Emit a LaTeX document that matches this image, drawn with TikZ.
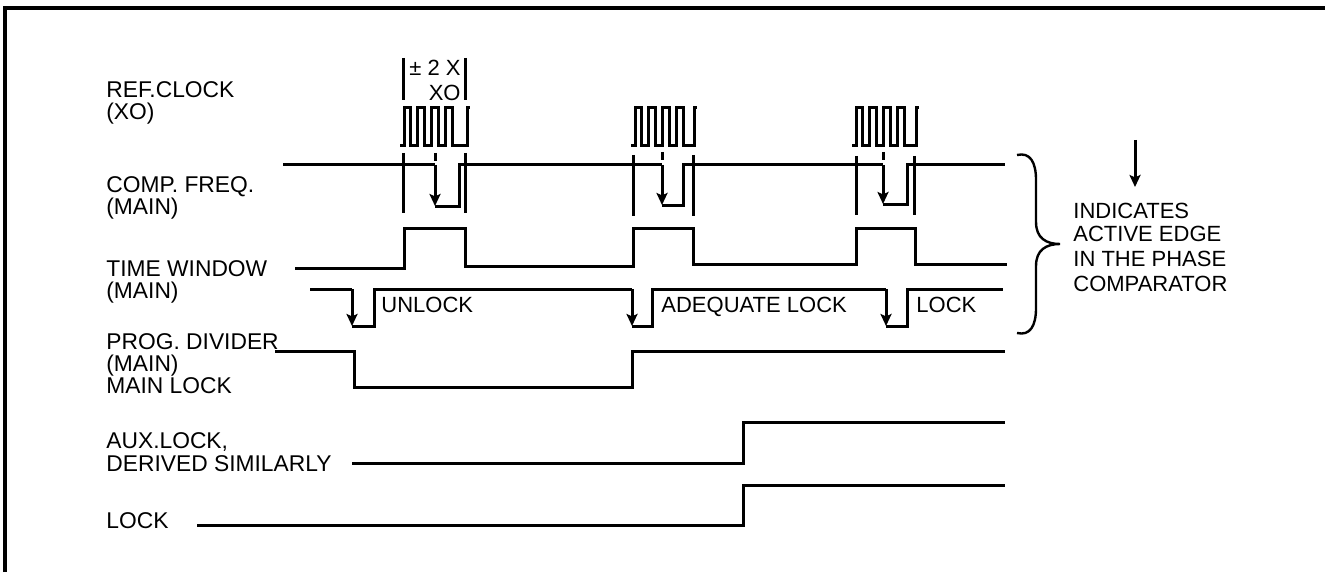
\documentclass[tikz,border=0pt]{standalone}
\usepackage{fontspec}
\setmainfont{Liberation Sans}
\usetikzlibrary{arrows.meta}
\newcommand\burstat[2]{%
  \draw[trace] (#1,146) -- ++(4,0)
    \foreach \i in {1,...,4}{ -- ++(0,-38) -- ++(6.9,0) -- ++(0,38) -- ++(6.9,0)}
    -- ++(#2,0) -- ++(0,-38) -- ++(3,0);}
\begin{document}
\begin{tikzpicture}[x=0.5pt,y=-0.5pt,
  trace/.style={line width=1.5pt, line join=miter},
  lbl/.style={anchor=base west, inner sep=0pt, font=\fontsize{11}{12}\selectfont},
  side/.style={lbl, font=\fontsize{11.4}{12}\selectfont},
  edgearrow/.style={line width=1.5pt, -{Stealth[length=6pt,width=5.5pt,inset=1.2pt]}}]
\useasboundingbox (0,0) rectangle (1325,572);
\draw[line width=1.8pt] (5,572) -- (5,8) -- (1325,8);

% left labels (baselines)
\node[side] (l1a) at (106,98) {REF.CLOCK};
\node[side] (l1b) at (106,120) {(XO)};
\node[side] (l2a) at (106,192) {COMP. FREQ.};
\node[side] (l2b) at (106,214) {(MAIN)};
\node[side] (l3a) at (106,276) {TIME WINDOW};
\node[side] (l3b) at (106,298) {(MAIN)};
\node[side] (l4a) at (106,349) {PROG. DIVIDER};
\node[side] (l4b) at (106,371) {(MAIN)};
\node[side] (l4c) at (106,393) {MAIN LOCK};
\node[side] (l5a) at (106,448) {AUX.LOCK,};
\node[side] (l5b) at (106,471) {DERIVED SIMILARLY};
\node[side] (l6) at (106,528) {LOCK};

% +-2XO bracket
\draw[trace] (403,58) -- (403,100);
\draw[trace] (465,58) -- (465,100);
\node[lbl, anchor=base east] (pm) at (461,76) {± 2 X};
\node[lbl, anchor=base east] (xo) at (461,101) {XO};

% reference clock bursts
\burstat{400}{7.8}
\burstat{631}{3.8}
\burstat{852}{4.8}

% marker verticals
\draw[trace] (403,153) -- (403,213);
\draw[trace] (465,153) -- (465,213);
\draw[trace] (633,155) -- (633,216);
\draw[trace] (693,155) -- (693,216);
\draw[trace] (856,156) -- (856,215);
\draw[trace] (914,156) -- (914,215);

% ticks
\draw[trace] (435,153) -- (435,161);
\draw[trace] (662,152) -- (662,160);
\draw[trace] (883,152) -- (883,160);

% comp. freq.
\draw[trace] (283,165) -- (435,165);
\draw[edgearrow] (435,165) -- (435,206);
\draw[trace] (435,206) -- (459,206) -- (459,165) -- (662,165);
\draw[edgearrow] (662,165) -- (662,205);
\draw[trace] (662,205) -- (683,205) -- (683,165) -- (883,165);
\draw[edgearrow] (883,165) -- (883,204);
\draw[trace] (883,204) -- (907,204) -- (907,165) -- (1005,165);

% time window
\draw[trace] (295,268) -- (404,268) -- (404,228) -- (465,228) -- (465,266) -- (633,266)
  -- (633,228) -- (693,228) -- (693,264) -- (856,264) -- (856,228) -- (915,228)
  -- (915,264) -- (1007,264);

% prog divider
\draw[trace] (310,289) -- (352,289);
\draw[edgearrow] (352,289) -- (352,326);
\draw[trace] (352,326) -- (374,326) -- (374,289) -- (632,289);
\draw[edgearrow] (632,289) -- (632,326);
\draw[trace] (632,326) -- (652,326) -- (652,289) -- (886,289);
\draw[edgearrow] (886,289) -- (886,326);
\draw[trace] (886,326) -- (907,326) -- (907,289) -- (1003,289);
\node[lbl] (unl) at (381,312) {UNLOCK};
\node[lbl] (adq) at (661,312) {ADEQUATE LOCK};
\node[lbl] (lck) at (916,312) {LOCK};

% main lock
\draw[trace] (275,351) -- (354,351) -- (354,387) -- (632,387) -- (632,351) -- (1005,351);

% aux lock and lock
\draw[trace] (352,463) -- (743,463) -- (743,422) -- (1005,422);
\draw[trace] (197,525) -- (743,525) -- (743,485) -- (1005,485);

% brace
\draw[line width=1.2pt] (1017,155) .. controls (1030,152) and (1036,162) .. (1036,180)
  -- (1036,222) .. controls (1036,238) and (1046,244) .. (1060,244)
  .. controls (1046,244) and (1036,250) .. (1036,266)
  -- (1036,308) .. controls (1036,326) and (1030,336) .. (1017,333);

% legend
\draw[edgearrow] (1135,140) -- (1135,187);
\node[lbl] (i1) at (1073,218) {INDICATES};
\node[lbl] (i2) at (1073,242) {ACTIVE EDGE};
\node[lbl] (i3) at (1073,266) {IN THE PHASE};
\node[lbl] (i4) at (1073,291) {COMPARATOR};
\end{tikzpicture}
\end{document}
